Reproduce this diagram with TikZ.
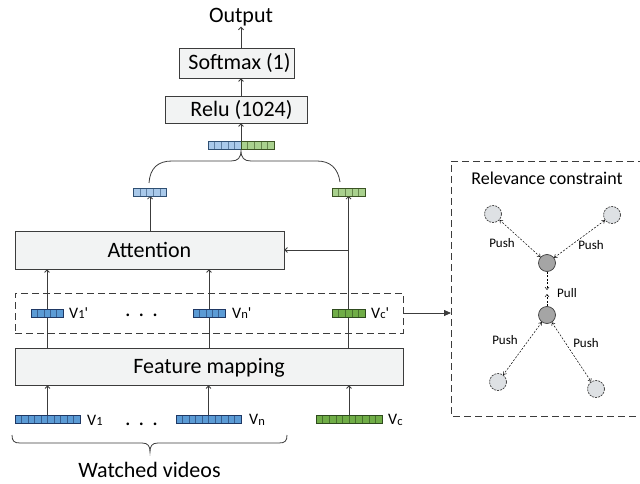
\documentclass[tikz,border=0pt]{standalone}
\usepackage{fontspec}
\setmainfont{Carlito}
\usetikzlibrary{arrows.meta,calc}
\pgfdeclarelayer{bg}
\pgfsetlayers{bg,main}

\definecolor{boxfill}{HTML}{F2F3F3}
\definecolor{boxline}{HTML}{3C3C3C}
\definecolor{blueD}{HTML}{5B9BD5}
\definecolor{blueDl}{HTML}{1F3864}
\definecolor{blueL}{HTML}{A9C9EA}
\definecolor{blueLl}{HTML}{2F4F72}
\definecolor{greenD}{HTML}{70AD47}
\definecolor{greenDl}{HTML}{2E4A1E}
\definecolor{greenL}{HTML}{A9D18E}
\definecolor{greenLl}{HTML}{3B5323}
\definecolor{dotfill}{HTML}{DEE1E4}
\definecolor{darkfill}{HTML}{A5A5A5}

\newcommand\subtx[1]{\raisebox{-0.6pt}{\fontsize{12.5}{12.5}\selectfont #1}}

\tikzset{
  layerbox/.style={draw=boxline, fill=boxfill, line width=0.8pt, inner sep=0,
    font=\fontsize{22}{22}\selectfont, text height=14pt, text depth=0pt},
  dashbox/.style={draw=boxline, line width=0.8pt, dash pattern=on 7pt off 4pt, inner sep=0},
  vcells/.store in=\vcells,
  vcellcol/.store in=\vcellcol,
  vecbar/.style n args={4}{draw=#3, fill=#2, line width=0.6pt, minimum width=#4,
    minimum height=8, inner sep=0, outer sep=0, vcells=#1, vcellcol=#3,
    path picture={
      \pgfmathtruncatemacro\vlast{\vcells-1}
      \foreach \k in {1,...,\vlast}{
        \draw[draw=\vcellcol, draw opacity=0.6, line width=0.5pt]
          ($(path picture bounding box.south west)!\k/\vcells!(path picture bounding box.south east)$) --
          ($(path picture bounding box.north west)!\k/\vcells!(path picture bounding box.north east)$);
      }
    }},
  vlabel/.style={anchor=base west, inner sep=0, font=\fontsize{16}{16}\selectfont},
  flow/.style={draw=boxline, line width=0.8pt, -{Straight Barb[length=2.5pt,width=5pt]}},
  plain/.style={draw=boxline, line width=0.8pt},
  lightc/.style={circle, minimum size=17, inner sep=0, fill=dotfill, draw=boxline,
    line width=0.7pt, dash pattern=on 2pt off 1pt},
  darkc/.style={circle, minimum size=17, inner sep=0, fill=darkfill, draw=boxline, line width=0.7pt},
  force/.style={draw=black, line width=0.5pt, dash pattern=on 2pt off 1.5pt,
    {Straight Barb[length=2.5pt,width=4pt]}-{Straight Barb[length=2.5pt,width=4pt]}},
  forceone/.style={draw=black, line width=0.5pt, dash pattern=on 2pt off 1.5pt,
    -{Straight Barb[length=2.5pt,width=4pt]}},
  flabel/.style={inner sep=0, font=\fontsize{13}{13}\selectfont},
  brace/.style={draw=boxline, line width=0.8pt}
}

\begin{document}
\begin{tikzpicture}[x=1pt,y=-1pt]
\useasboundingbox (0,0) rectangle (640,484);

% --- output stack ---
\node[anchor=base, inner sep=0, font=\fontsize{22}{22}\selectfont] (out) at (241,23) {Output};
\node[layerbox, minimum width=115, minimum height=30] (soft) at (236.5,63) {\hspace{6pt}Softmax (1)};
\node[layerbox, minimum width=141.5, minimum height=27] (relu) at (236.5,109.5) {\hspace{10pt}Relu (1024)};
\coordinate (axis) at (241,0);

% concatenated vector
\node[vecbar={5}{blueL}{blueLl}{33}] (cat1) at (224.5,145) {};
\node[vecbar={5}{greenL}{greenLl}{33}] (cat2) at (257.5,145) {};

% pooled user vector and candidate vector
\node[vecbar={5}{blueL}{blueLl}{33}] (ub) at (150,192) {};
\node[vecbar={5}{greenL}{greenLl}{33}] (cg) at (348.5,192) {};

% --- attention and mapping ---
\node[layerbox, minimum width=269, minimum height=38] (att) at (149.5,250) {Attention};
\node[dashbox, minimum width=388, minimum height=40] (mapped) at (209,313) {};
\node[layerbox, minimum width=388, minimum height=37] (fm) at (209,366.5) {Feature mapping};

% mapped vectors
\node[vecbar={5}{blueD}{blueDl}{32}] (v1p) at (47,313) {};
\node[vecbar={5}{blueD}{blueDl}{32}] (vnp) at (209,313) {};
\node[vecbar={5}{greenD}{greenDl}{33}] (vcp) at (348.5,313) {};
\node[vlabel] (l1p) at (69,318) {V\subtx{1}\textquotesingle};
\node[vlabel] (lnp) at (232,318) {V\subtx{n}\textquotesingle};
\node[vlabel] (lcp) at (371,318) {V\subtx{c}\textquotesingle};
\node[anchor=base, inner sep=0, font=\fontsize{22}{22}\selectfont] (dots1) at (141.5,316) {.\hspace{8pt}.\hspace{8pt}.};

% input vectors
\node[vecbar={10}{blueD}{blueDl}{65}] (v1) at (47.5,419.5) {};
\node[vecbar={10}{blueD}{blueDl}{65}] (vn) at (208.5,419.5) {};
\node[vecbar={10}{greenD}{greenDl}{66}] (vc) at (349,419.5) {};
\node[vlabel] (l1) at (87,425) {V\subtx{1}};
\node[vlabel] (ln) at (249,424.5) {V\subtx{n}};
\node[vlabel] (lc) at (388,424.5) {V\subtx{c}};
\node[anchor=base, inner sep=0, font=\fontsize{22}{22}\selectfont] (dots2) at (141.5,425) {.\hspace{8pt}.\hspace{8pt}.};

\node[anchor=base, inner sep=0, font=\fontsize{22}{22}\selectfont] (watched) at (149.5,477) {Watched videos};

% --- connectors (behind the vectors) ---
\begin{pgfonlayer}{bg}
  \draw[flow] (v1.north) -- (fm.south -| v1.north);
  \draw[flow] (vn.north) -- (fm.south -| vn.north);
  \draw[flow] (vc.north) -- (fm.south -| vc.north);
  \draw[flow] (fm.north -| v1p.center) -- (att.south -| v1p.center);
  \draw[flow] (fm.north -| vnp.center) -- (att.south -| vnp.center);
  \draw[flow] (fm.north -| vcp.center) -- (cg.south);
  \coordinate (branch) at (att.east -| vcp.center);
  \draw[flow] (branch) -- (att.east);
  \draw[flow] (att.north -| ub.center) -- (ub.south);
  \draw[flow] (cat1.north east) -- (relu.south -| axis);
  \draw[flow] (relu.north -| axis) -- (soft.south -| axis);
  \draw[flow] (soft.north -| axis) -- (out.south -| axis);
\end{pgfonlayer}

% braces
\draw[brace] (149,183) .. controls (150,168) and (158,161) .. (172,161) -- (231,161)
  .. controls (238,161) and (241,158) .. (241,150)
  .. controls (241,158) and (244,161) .. (251,161) -- (317,161)
  .. controls (330,161) and (338,168) .. (340,182);
\draw[brace] (12,435) .. controls (12,441) and (14,443) .. (20,443) -- (142,443)
  .. controls (148,443) and (150,446) .. (150,452)
  .. controls (150,446) and (152,443) .. (158,443) -- (279,443)
  .. controls (285,443) and (287,441) .. (287,435);

% --- relevance constraint panel ---
\draw[dashbox] (645,161) -- (451,161) -- (451,416) -- (645,416);
\coordinate (relin) at (451,313);
\draw[plain, -{Triangle[length=7pt,width=6pt]}] (mapped.east) -- (relin);
\node[inner sep=0, font=\fontsize{18}{18}\selectfont] (reltitle) at (547,178) {Relevance constraint};

\node[lightc] (c1) at (493,214) {};
\node[lightc] (c2) at (612,215) {};
\node[darkc] (d1) at (547,263) {};
\node[darkc] (d2) at (547,315) {};
\node[lightc] (c3) at (498,382) {};
\node[lightc] (c4) at (596,389) {};

\draw[force] (d1) -- (c1);
\draw[force] (d1) -- (c2);
\draw[force] (d2) -- (c3);
\draw[force] (d2) -- (c4);
\coordinate (pullA) at (547,290);
\coordinate (pullB) at (547,294);
\draw[forceone] (d1.south) -- (pullA);
\draw[forceone] (d2.north) -- (pullB);

\node[flabel] (p1) at (502,243) {Push};
\node[flabel] (p2) at (591,245) {Push};
\node[flabel] (pl) at (567,293) {Pull};
\node[flabel] (p3) at (505,340) {Push};
\node[flabel] (p4) at (586,343) {Push};
\end{tikzpicture}
\end{document}
